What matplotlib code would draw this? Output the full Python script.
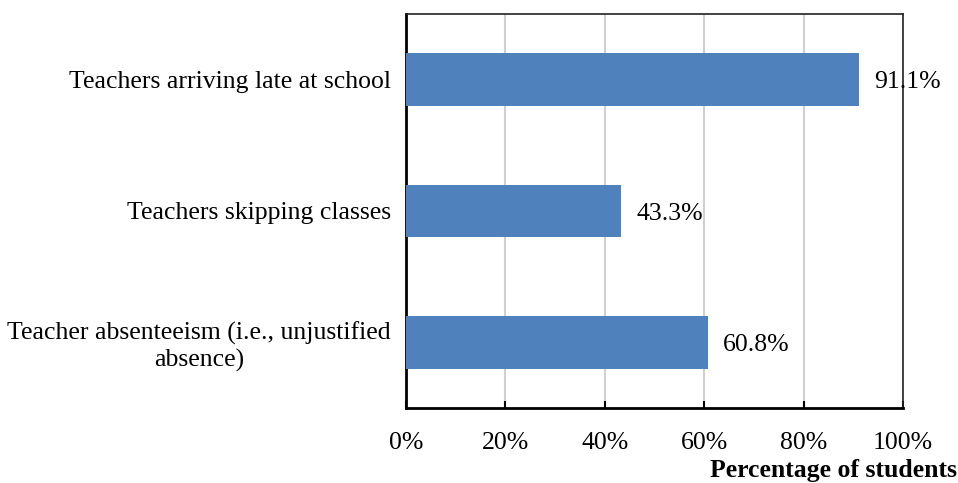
import matplotlib.pyplot as plt
from matplotlib.ticker import FuncFormatter

categories = [
    "Teacher absenteeism (i.e., unjustified\nabsence)",
    "Teachers skipping classes",
    "Teachers arriving late at school",
]
values = [60.8, 43.3, 91.1]
xticks = [0, 20, 40, 60, 80, 100]

plt.rcParams['font.family'] = ['Liberation Serif', 'DejaVu Serif']
FS = 18.5

fig = plt.figure(figsize=(9.58, 4.83), dpi=100)
ax = fig.add_axes([0.4238, 0.1553, 0.5188, 0.8157])

ypos = range(len(categories))
ax.barh(ypos, values, height=0.4, color='#4F81BD', zorder=3)
for y, v in zip(ypos, values):
    ax.text(v + 3, y - 0.02, f"{v:.1f}%", va='center', ha='left', fontsize=FS, zorder=4)

ax.set_xlim(0, 100)
ax.set_ylim(-0.5, 2.5)
ax.set_xticks(xticks)
ax.xaxis.set_major_formatter(FuncFormatter(lambda x, _: f"{x:.0f}%"))
ax.set_yticks(list(ypos))
ax.set_yticklabels(categories, fontsize=FS, ha='right', multialignment='center')
ax.tick_params(axis='x', direction='in', length=5, width=1.5, labelsize=FS, pad=17)
ax.tick_params(axis='y', length=0, pad=11)
ax.grid(axis='x', color='#D0D0D0', linewidth=1.5, zorder=0)

for side in ['left', 'bottom']:
    ax.spines[side].set_linewidth(2)
    ax.spines[side].set_color('black')
for side in ['top', 'right']:
    ax.spines[side].set_linewidth(1.2)
    ax.spines[side].set_color('#222222')

fig.text(0.999, 0.025, "Percentage of students", ha='right', va='center',
         fontsize=FS, fontweight='bold')

fig.savefig('out.png', dpi=100)
